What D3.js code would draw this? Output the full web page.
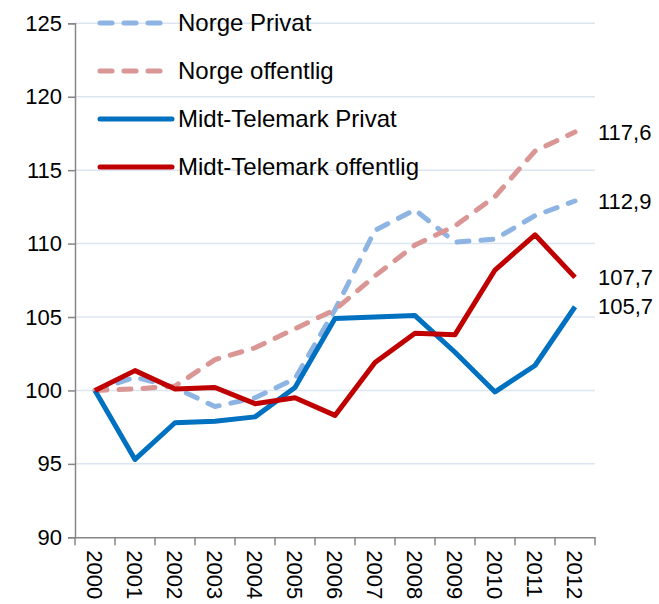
<!DOCTYPE html>
<html><head><meta charset="utf-8">
<script src="https://cdn.jsdelivr.net/npm/d3@7"></script>
<style>body{margin:0;background:#fff}svg{display:block}text{font-family:"Liberation Sans",Arial,sans-serif;fill:#000}</style>
</head><body><svg id="c" width="659" height="604"></svg>
<script>
const years = ["2000","2001","2002","2003","2004","2005","2006","2007","2008","2009","2010","2011","2012"];
const norgePrivat = [100,100.9,100.2,98.9,99.5,100.8,105.5,110.9,112.3,110.1,110.3,111.9,112.9];
const norgeOffentlig = [100,100.1,100.3,102.1,102.9,104.2,105.5,107.8,109.9,111.2,113.2,116.3,117.6];
const mtPrivat = [100,95.3,97.8,97.9,98.2,100.2,104.9,105.0,105.1,102.6,99.9,101.7,105.7];
const mtOffentlig = [100,101.35,100.1,100.2,99.1,99.5,98.3,101.9,103.9,103.8,108.2,110.6,107.7];
const seriesNames = ["Norge Privat","Norge offentlig","Midt-Telemark Privat","Midt-Telemark offentlig"];
const endLabels = ["112,9","117,6","105,7","107,7"];
const yTicks = [90,95,100,105,110,115,120,125];

const styles = [
  {color:"#8DB4E2", dash:"12,12"},
  {color:"#DA9694", dash:"12,12"},
  {color:"#0070C0", dash:null},
  {color:"#C00000", dash:null}
];
const data = [norgePrivat, norgeOffentlig, mtPrivat, mtOffentlig];

const svg = d3.select("#c");
const mLeft = 75, mRight = 595, mTop = 23.3, mBottom = 537.3;
const x = d3.scaleBand().domain(years).range([mLeft,mRight]);
const y = d3.scaleLinear().domain([90,125]).range([mBottom,mTop]);

// gridlines
svg.append("g").selectAll("line").data(yTicks.filter(d=>d>90)).join("line")
  .attr("x1",mLeft).attr("x2",mRight).attr("y1",d=>y(d)).attr("y2",d=>y(d))
  .attr("stroke","#DCE6F2").attr("stroke-width",1.5);

// y axis
const ya = svg.append("g").attr("transform",`translate(${mLeft},0)`)
  .call(d3.axisLeft(y).tickValues(yTicks).tickSize(7).tickPadding(6).tickFormat(d3.format("d")));
ya.select(".domain").attr("stroke","#868686").attr("stroke-width",1.5);
ya.selectAll(".tick line").attr("stroke","#868686").attr("stroke-width",1.5);
ya.selectAll("text").style("font-size","22px").attr("fill","#000");

// x axis
const xa = svg.append("g").attr("transform",`translate(0,${mBottom})`)
  .call(d3.axisBottom(x).tickSize(0).tickFormat(d=>d));
xa.select(".domain").attr("stroke","#868686").attr("stroke-width",1.5);
xa.selectAll(".tick text").style("font-size","22px").attr("fill","#000")
  .attr("transform","rotate(90)").attr("x",13).attr("y",0).attr("dy","0.35em")
  .attr("text-anchor","start");
// boundary ticks
const bounds = years.map(d=>x(d)).concat([mRight]);
svg.append("g").selectAll("line").data(bounds).join("line")
  .attr("x1",d=>d).attr("x2",d=>d).attr("y1",mBottom).attr("y2",mBottom+8)
  .attr("stroke","#868686").attr("stroke-width",1.5);

const line = d3.line().x((d,i)=>x(years[i])+x.bandwidth()/2).y(d=>y(d));
data.forEach((s,k)=>{
  svg.append("path").attr("d",line(s)).attr("fill","none")
    .attr("stroke",styles[k].color).attr("stroke-width",5)
    .attr("stroke-dasharray",styles[k].dash)
    .attr("stroke-linecap",styles[k].dash?"round":"butt")
    .attr("stroke-linejoin","round");
  svg.append("text").attr("x",598).attr("y",y(s[s.length-1])).attr("dy","0.35em")
    .style("font-size","22px").text(endLabels[k]);
});

// legend
const legY = [23, 71, 119, 167];
seriesNames.forEach((n,k)=>{
  svg.append("line").attr("x1",100).attr("x2",172).attr("y1",legY[k]).attr("y2",legY[k])
    .attr("stroke",styles[k].color).attr("stroke-width",5)
    .attr("stroke-dasharray",styles[k].dash)
    .attr("stroke-linecap","round");
  svg.append("text").attr("x",178).attr("y",legY[k]).attr("dy","0.35em")
    .style("font-size","24px").text(n);
});
</script></body></html>
